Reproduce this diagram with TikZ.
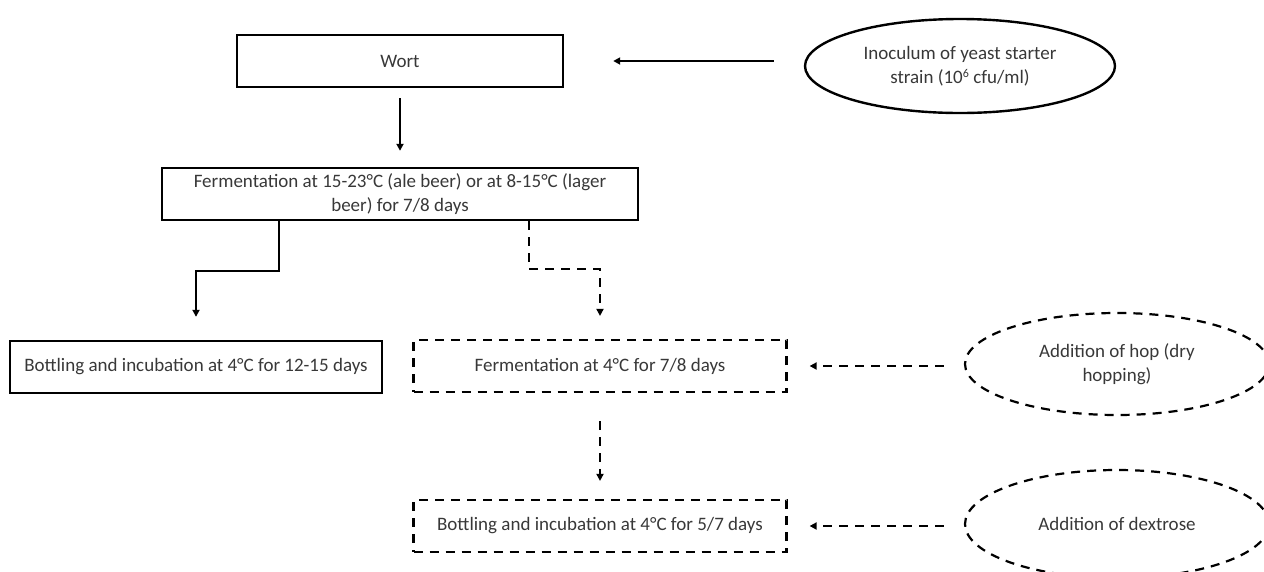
\documentclass[tikz,border=0pt]{standalone}
\usepackage{fontspec}
\setmainfont{Carlito}
\usetikzlibrary{arrows.meta,shapes.geometric}
\definecolor{txt}{HTML}{383838}
\tikzset{
  box/.style={draw=black, line width=2.4pt, minimum height=52pt, inner sep=2pt, text=txt, align=center, font=\fontsize{19pt}{23.5pt}\selectfont},
  dbox/.style={box, line width=2.2pt, dash pattern=on 9pt off 7pt},
  oval/.style={ellipse, draw=black, line width=2.4pt, text=txt, align=center, font=\fontsize{19pt}{23.5pt}\selectfont, inner sep=0pt},
  doval/.style={oval, line width=2.2pt, dash pattern=on 9pt off 7pt},
  arr/.style={draw=black, line width=2pt, -{Triangle[length=7pt,width=7pt]}},
  darr/.style={arr, line width=2.2pt, dash pattern=on 9pt off 7pt}
}
\begin{document}
\begin{tikzpicture}[x=1pt,y=-1pt]
\useasboundingbox (0,0) rectangle (1264,571);
\node[box, minimum width=326pt] (wort) at (400,61) {Wort};
\node[box, minimum width=476pt] (ferm1) at (400,194) {Fermentation at 15-23°C (ale beer) or at 8-15°C (lager\\beer) for 7/8 days};
\node[box, minimum width=372pt] (bott1) at (196,367) {Bottling and incubation at 4°C for 12-15 days};
\node[dbox, minimum width=373pt] (ferm2) at (600,366) {Fermentation at 4°C for 7/8 days};
\node[dbox, minimum width=373pt] (bott2) at (600,526) {Bottling and incubation at 4°C for 5/7 days};
\node[oval, minimum width=310pt, minimum height=94pt] (inoc) at (960,66) {Inoculum of yeast starter\\strain (10{\fontsize{12pt}{12pt}\selectfont\raisebox{0.45em}{6}} cfu/ml)};
\node[doval, minimum width=304pt, minimum height=102pt] (hop) at (1117,364) {Addition of hop (dry\\hopping)};
\node[doval, minimum width=304pt, minimum height=108pt] (dex) at (1117,524) {Addition of dextrose};
\draw[arr, shorten <=10pt, shorten >=16pt] (wort.south) -- (ferm1.north);
\draw[arr, shorten <=30pt, shorten >=49pt] (inoc.west |- wort.east) -- (wort.east);
\draw[arr] ([xshift=118pt]ferm1.south west) -- ++(0,50) -| ([yshift=23pt]bott1.north);
\draw[darr] ([xshift=-110pt]ferm1.south east) -- ++(0,48) -| ([yshift=23pt]ferm2.north);
\draw[darr, shorten <=28pt, shorten >=18pt] (ferm2.south) -- (bott2.north);
\draw[darr, shorten <=20pt, shorten >=22pt] (hop.west |- ferm2.east) -- (ferm2.east);
\draw[darr, shorten <=20pt, shorten >=22pt] (dex.west |- bott2.east) -- (bott2.east);
\end{tikzpicture}
\end{document}
